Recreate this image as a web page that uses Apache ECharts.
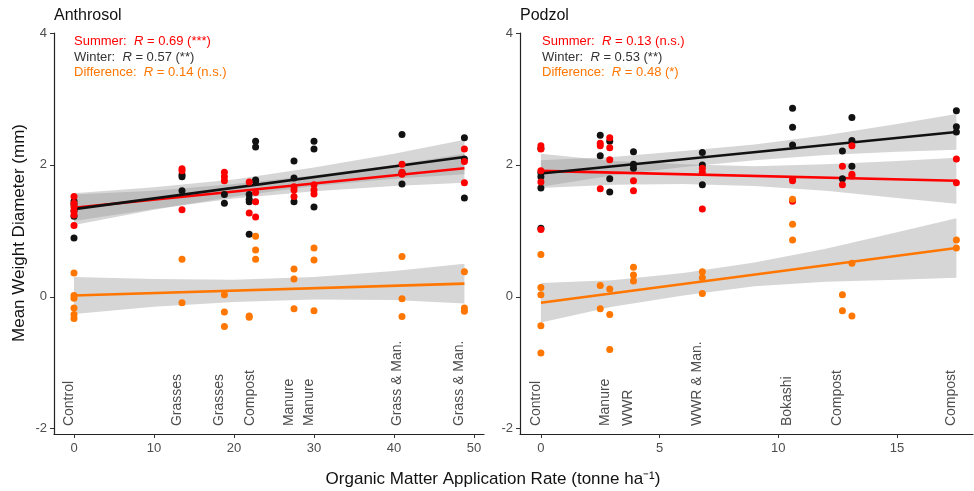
<!DOCTYPE html>
<html>
<head>
<meta charset="utf-8">
<script src="https://cdn.jsdelivr.net/npm/echarts@6/dist/echarts.min.js"></script>
<style>
  html, body { margin: 0; padding: 0; background: #fff; }
  #main { width: 974px; height: 491px; }
</style>
</head>
<body>
<div id="main"></div>
<script>
// tick labels
var yTicks = [-2, 0, 2, 4];
var leftXTicks = [0, 10, 20, 30, 40, 50];
var rightXTicks = [0, 5, 10, 15];

// treatment labels along the bottom of each panel
var leftTreatX = [0, 13.5, 18.8, 22.7, 27.5, 30, 41, 48.8];
var leftTreatNames = ['Control', 'Grasses', 'Grasses', 'Compost', 'Manure', 'Manure', 'Grass & Man.', 'Grass & Man.'];
var rightTreatX = [0, 2.9, 3.9, 6.8, 10.6, 12.7, 17.5];
var rightTreatNames = ['Control', 'Manure', 'WWR', 'WWR & Man.', 'Bokashi', 'Compost', 'Compost'];

// Anthrosol points
var leftWinter = [[0,1.45],[0,1.40],[0,1.30],[0,1.22],[0,0.89],
  [13.5,1.85],[13.5,1.82],[13.5,1.61],
  [18.8,1.55],[18.8,1.42],
  [21.9,1.55],[21.9,1.48],[21.9,1.44],[21.9,0.95],
  [22.7,2.36],[22.7,2.27],[22.7,1.77],[22.7,1.75],
  [27.5,2.06],[27.5,1.80],[27.5,1.44],
  [30,2.36],[30,2.24],[30,1.36],
  [41,2.46],[41,1.88],[41,1.71],
  [48.8,2.41],[48.8,2.09],[48.8,1.50]];
var leftSummer = [[0,1.52],[0,1.42],[0,1.36],[0,1.30],[0,1.24],[0,1.08],
  [13.5,1.94],[13.5,1.91],[13.5,1.32],
  [18.8,1.89],[18.8,1.82],[18.8,1.76],
  [21.9,1.74],[21.9,1.27],
  [22.7,1.58],[22.7,1.44],[22.7,1.21],
  [27.5,1.67],[27.5,1.62],[27.5,1.52],
  [30,1.70],[30,1.62],[30,1.56],
  [41,2.01],[41,1.89],[41,1.86],
  [48.8,2.24],[48.8,2.05],[48.8,1.73]];
var leftDiff = [[0,0.36],[0,0.02],[0,-0.02],[0,-0.17],[0,-0.27],[0,-0.33],
  [13.5,0.57],[13.5,-0.09],
  [18.8,0.03],[18.8,-0.23],[18.8,-0.45],
  [21.9,-0.29],[21.9,-0.31],
  [22.7,0.92],[22.7,0.71],[22.7,0.57],
  [27.5,0.42],[27.5,0.27],[27.5,-0.18],
  [30,0.74],[30,0.56],[30,-0.21],
  [41,0.61],[41,-0.03],[41,-0.30],
  [48.8,0.38],[48.8,-0.17],[48.8,-0.22]];

// Podzol points
var rightWinter = [[0,2.25],[0,1.88],[0,1.82],[0,1.65],[0,1.04],
  [2.5,2.45],[2.5,2.14],
  [2.9,2.36],[2.9,1.79],[2.9,1.59],
  [3.9,2.20],[3.9,2.01],[3.9,1.95],
  [6.8,2.19],[6.8,2.00],[6.8,1.70],
  [10.6,2.86],[10.6,2.57],[10.6,2.30],
  [12.7,2.21],[12.7,1.79],
  [13.1,2.72],[13.1,2.37],[13.1,1.98],
  [17.5,2.82],[17.5,2.58],[17.5,2.50]];
var rightSummer = [[0,2.29],[0,2.24],[0,1.91],[0,1.74],[0,1.02],
  [2.5,2.33],[2.5,2.29],[2.5,1.64],
  [2.9,2.41],[2.9,2.26],[2.9,2.08],
  [3.9,1.76],[3.9,1.61],
  [6.8,1.95],[6.8,1.89],[6.8,1.33],
  [10.6,1.78],[10.6,1.76],[10.6,1.45],
  [12.7,1.98],[12.7,1.70],
  [13.1,2.29],[13.1,1.86],[13.1,1.83],
  [17.5,2.09],[17.5,1.73]];
var rightDiff = [[0,0.64],[0,0.14],[0,0.03],[0,-0.44],[0,-0.85],
  [2.5,0.17],[2.5,-0.18],
  [2.9,0.12],[2.9,-0.27],[2.9,-0.80],
  [3.9,0.45],[3.9,0.33],[3.9,0.24],
  [6.8,0.38],[6.8,0.29],[6.8,0.05],
  [10.6,1.48],[10.6,1.10],[10.6,0.86],
  [12.7,0.03],[12.7,-0.21],
  [13.1,0.51],[13.1,-0.29],
  [17.5,0.86],[17.5,0.74]];

// fitted lines (ends)
var leftFitX = [0, 48.8];
var leftWinterFit = [1.33, 2.12];
var leftSummerFit = [1.35, 1.95];
var leftDiffFit = [0.02, 0.20];
var rightFitX = [0, 17.5];
var rightWinterFit = [1.87, 2.50];
var rightSummerFit = [1.91, 1.76];
var rightDiffFit = [-0.09, 0.74];

// confidence bands
var leftBandX = [0, 10, 20, 30, 40, 48.8];
var leftWinterLo = [1.09, 1.32, 1.52, 1.68, 1.79, 1.86];
var leftWinterHi = [1.57, 1.66, 1.78, 1.96, 2.17, 2.38];
var leftSummerLo = [1.15, 1.33, 1.49, 1.60, 1.68, 1.73];
var leftSummerHi = [1.55, 1.61, 1.71, 1.84, 2.00, 2.17];
var leftDiffLo = [-0.26, -0.15, -0.08, -0.04, -0.05, -0.10];
var leftDiffHi = [0.30, 0.27, 0.26, 0.30, 0.39, 0.50];
var rightBandX = [0, 3, 6, 9, 12, 15, 17.5];
var rightWinterLo = [1.67, 1.84, 1.97, 2.07, 2.15, 2.20, 2.23];
var rightWinterHi = [2.07, 2.12, 2.21, 2.31, 2.45, 2.62, 2.77];
var rightSummerLo = [1.65, 1.70, 1.71, 1.68, 1.61, 1.50, 1.41];
var rightSummerHi = [2.17, 2.06, 2.01, 1.98, 2.01, 2.06, 2.11];
var rightDiffLo = [-0.39, -0.15, 0.02, 0.16, 0.23, 0.26, 0.29];
var rightDiffHi = [0.21, 0.25, 0.36, 0.52, 0.73, 0.98, 1.19];

var RED = '#ff0000', BLACK = '#111111', ORANGE = '#ff7600';
var FONT = '"Liberation Sans", Arial, sans-serif';

function zip(xs, ys) {
  return xs.map(function (x, i) { return [x, ys[i]]; });
}

function band(xs, lo, hi, gi) {
  return {
    type: 'custom', xAxisIndex: gi, yAxisIndex: gi, silent: true,
    data: [[xs[0], lo[0]]],
    renderItem: function (params, api) {
      var top = xs.map(function (x, i) { return api.coord([x, hi[i]]); });
      var bot = xs.map(function (x, i) { return api.coord([x, lo[i]]); }).reverse();
      return { type: 'polygon', shape: { points: top.concat(bot) }, style: { fill: 'rgba(153,153,153,0.4)' } };
    }
  };
}

function fit(xs, ys, color, gi) {
  return {
    type: 'line', xAxisIndex: gi, yAxisIndex: gi, data: zip(xs, ys),
    symbol: 'none', silent: true, lineStyle: { color: color, width: 2.6 }
  };
}

function pts(data, color, gi) {
  return {
    type: 'scatter', xAxisIndex: gi, yAxisIndex: gi, data: data,
    symbolSize: 7, itemStyle: { color: color, opacity: 1 }, z: 5
  };
}

function xAxis(gi, min, max, ticks) {
  return {
    type: 'value', gridIndex: gi, min: min, max: max,
    splitLine: { show: false },
    axisLine: { onZero: false, lineStyle: { color: '#222', width: 1.2 } },
    axisTick: { length: 4, customValues: ticks, lineStyle: { color: '#333' } },
    axisLabel: { customValues: ticks, margin: 8, fontSize: 13, color: '#4d4d4d', fontFamily: FONT }
  };
}

function yAxis(gi) {
  return {
    type: 'value', gridIndex: gi, min: -2.08, max: 4.0,
    splitLine: { show: false },
    axisLine: { show: true, onZero: false, lineStyle: { color: '#222', width: 1.2 } },
    axisTick: { show: true, length: 4, customValues: yTicks, lineStyle: { color: '#333' } },
    axisLabel: { customValues: yTicks, margin: 7, fontSize: 13, color: '#4d4d4d', fontFamily: FONT }
  };
}

var myChart = echarts.init(document.getElementById('main'));
var option = {
  animation: false,
  backgroundColor: '#fff',
  grid: [
    { left: 54, top: 33, width: 430, height: 401 },
    { left: 520, top: 33, width: 453, height: 401 }
  ],
  xAxis: [xAxis(0, -2.5, 51.25, leftXTicks), xAxis(1, -0.88, 18.2, rightXTicks)],
  yAxis: [yAxis(0), yAxis(1)],
  series: [
    band(leftBandX, leftSummerLo, leftSummerHi, 0),
    fit(leftFitX, leftSummerFit, RED, 0),
    band(leftBandX, leftWinterLo, leftWinterHi, 0),
    fit(leftFitX, leftWinterFit, BLACK, 0),
    band(leftBandX, leftDiffLo, leftDiffHi, 0),
    fit(leftFitX, leftDiffFit, ORANGE, 0),
    pts(leftWinter, BLACK, 0),
    pts(leftSummer, RED, 0),
    pts(leftDiff, ORANGE, 0),

    band(rightBandX, rightSummerLo, rightSummerHi, 1),
    fit(rightFitX, rightSummerFit, RED, 1),
    band(rightBandX, rightWinterLo, rightWinterHi, 1),
    fit(rightFitX, rightWinterFit, BLACK, 1),
    band(rightBandX, rightDiffLo, rightDiffHi, 1),
    fit(rightFitX, rightDiffFit, ORANGE, 1),
    pts(rightWinter, BLACK, 1),
    pts(rightSummer, RED, 1),
    pts(rightDiff, ORANGE, 1)
  ]
};
myChart.setOption(option);

// texts
function statText(x, y, color, label, rest) {
  return {
    type: 'text', x: x, y: y, silent: true,
    style: {
      text: '{a|' + label + ':  }{i|R}{a| = ' + rest + '}',
      fill: color, textVerticalAlign: 'middle',
      rich: {
        a: { fontSize: 13, fontFamily: FONT, fill: color },
        i: { fontSize: 13, fontFamily: FONT, fontStyle: 'italic', fill: color }
      }
    }
  };
}

function treatLabels(xs, names, gi) {
  return xs.map(function (x, i) {
    var p = myChart.convertToPixel({ gridIndex: gi }, [x, -1.96]);
    return {
      type: 'text', x: p[0] - 5, y: p[1], rotation: Math.PI / 2, silent: true,
      style: {
        text: names[i], fontSize: 14, fontFamily: FONT, fill: '#4d4d4d',
        textAlign: 'left', textVerticalAlign: 'middle'
      }
    };
  });
}

var graphics = [
  { type: 'text', x: 54, y: 16, style: { text: 'Anthrosol', fontSize: 16, fontFamily: FONT, fill: '#111', textVerticalAlign: 'middle' } },
  { type: 'text', x: 520, y: 16, style: { text: 'Podzol', fontSize: 16, fontFamily: FONT, fill: '#111', textVerticalAlign: 'middle' } },
  statText(74, 41, RED, 'Summer', '0.69 (***)'),
  statText(74, 57, '#333', 'Winter', '0.57 (**)'),
  statText(74, 72, ORANGE, 'Difference', '0.14 (n.s.)'),
  statText(542, 41, RED, 'Summer', '0.13 (n.s.)'),
  statText(542, 57, '#333', 'Winter', '0.53 (**)'),
  statText(542, 72, ORANGE, 'Difference', '0.48 (*)'),
  { type: 'text', x: 19, y: 233, rotation: Math.PI / 2,
    style: { text: 'Mean Weight Diameter (mm)', fontSize: 17, fontFamily: FONT, fill: '#111', textAlign: 'center', textVerticalAlign: 'middle' } },
  { type: 'text', x: 493, y: 479,
    style: { text: 'Organic Matter Application Rate (tonne ha\u207B\u00B9)', fontSize: 17, fontFamily: FONT, fill: '#111', textAlign: 'center', textVerticalAlign: 'middle' } }
].concat(treatLabels(leftTreatX, leftTreatNames, 0), treatLabels(rightTreatX, rightTreatNames, 1));

myChart.setOption({ graphic: graphics });
</script>
</body>
</html>
